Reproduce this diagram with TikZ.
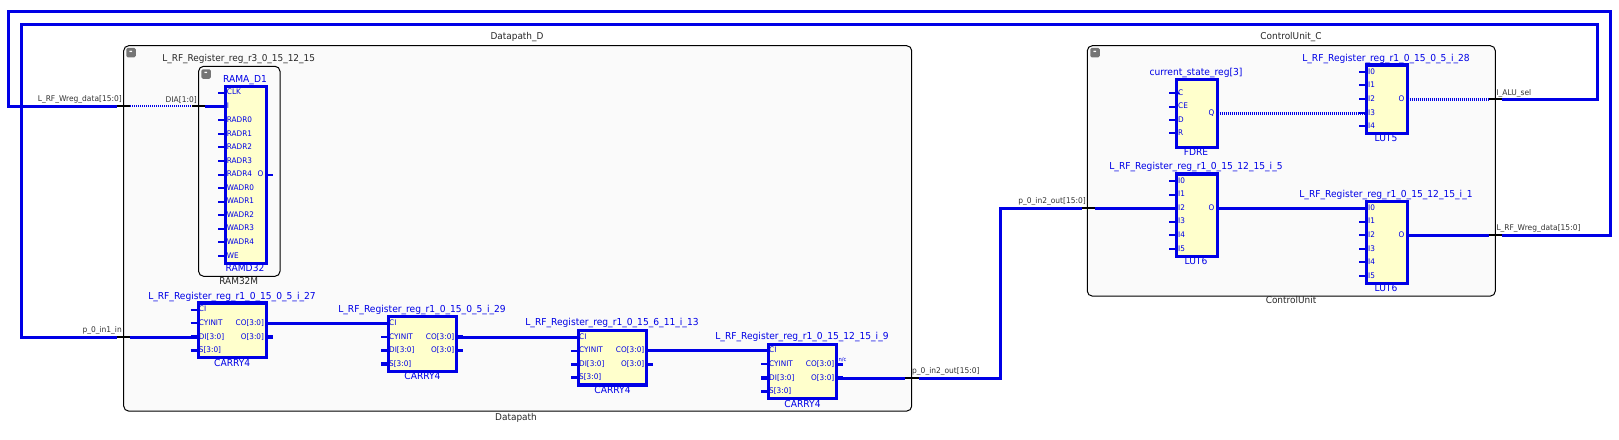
\documentclass[tikz,border=0pt]{standalone}
\usepackage{fontspec}
\setmainfont{DejaVu Sans}[FakeStretch=0.95]
\definecolor{netblue}{HTML}{0000E6}
\definecolor{cellyellow}{HTML}{FFFFCC}
\definecolor{groupgray}{HTML}{FAFAFA}
\definecolor{icongray}{HTML}{757575}
\tikzset{
  group/.style={draw=black,fill=groupgray,line width=1pt,rounded corners=5pt},
  cell/.style={draw=netblue,fill=cellyellow,line width=3.3pt,inner sep=0pt,outer sep=0pt},
  icon/.style={fill=icongray,rounded corners=1.5pt,minimum size=9.5pt,inner sep=0pt,text=white,font=\fontsize{9}{9}\selectfont\bfseries},
  net/.style={draw=netblue,line width=3pt,line join=miter},
  netdot/.style={draw=netblue,line width=3pt,dash pattern=on 1pt off 1pt},
  netdotthin/.style={draw=netblue,line width=2pt,dash pattern=on 1pt off 1pt},
  port/.style={draw=black,line width=2pt},
  pinthin/.style={draw=netblue,line width=2pt},
  pinbus/.style={draw=netblue,line width=3.4pt},
  cellname/.style={text=netblue,inner sep=0pt,text height=7pt,text depth=2pt,font=\fontsize{9.6}{10}\selectfont},
  pinname/.style={text=netblue,inner sep=0pt,text height=6pt,text depth=1.5pt,font=\fontsize{7.7}{9}\selectfont},
  blackname/.style={text=black!85,inner sep=0pt,text height=7pt,text depth=2pt,font=\fontsize{9.4}{10}\selectfont},
  netname/.style={text=black!80,inner sep=0pt,text height=6pt,text depth=1.5pt,font=\fontsize{7.9}{9}\selectfont}
}
\begin{document}
\begin{tikzpicture}[x=1pt,y=-1pt]
\useasboundingbox (0,0) rectangle (1619,439);
% hierarchy boxes
\node[group,minimum width=788pt,minimum height=365.4pt] (datapath) at (517.7,228.4) {};
\node[group,minimum width=81.4pt,minimum height=210pt] (ramgroup) at (239.3,171.3) {};
\node[group,minimum width=408pt,minimum height=250.4pt] (control) at (1291.3,170.9) {};
\node[icon] (dpicon) at (131,52.7) {-};
\node[icon] (ramicon) at (206,74) {-};
\node[icon] (cticon) at (1095,52.7) {-};
\node[blackname] (dptitle) at (517,37.3) {Datapath\_D};
\node[blackname] (dpname) at (516,417.5) {Datapath};
\node[blackname] (ramtitle) at (238.7,58.5) {L\_RF\_Register\_reg\_r3\_0\_15\_12\_15};
\node[blackname] (ramname) at (238.7,282) {RAM32M};
\node[blackname] (cttitle) at (1291,37.3) {ControlUnit\_C};
\node[blackname] (ctname) at (1291,301.3) {ControlUnit};
% cells
\node[cell,minimum width=41pt,minimum height=176.6pt] (ramd) at (246.2,175) {};
\node[cell,minimum width=41.4pt,minimum height=68pt] (fdre) at (1197,113.3) {};
\node[cell,minimum width=41.4pt,minimum height=68.7pt] (luta) at (1387,99.3) {};
\node[cell,minimum width=41.4pt,minimum height=82.7pt] (lutb) at (1197,215.3) {};
\node[cell,minimum width=41.4pt,minimum height=82.4pt] (lutc) at (1387,242.5) {};
\foreach \cy/\xx/\yy in {cya/232.2/330.3,cyb/422.5/344,cyc/612.5/357.7,cyd/802.5/371.4}{
\node[cell,minimum width=68pt,minimum height=54.5pt] (\cy) at (\xx,\yy) {};
\node[cellname] (\cy type) at (\xx,\yy+33.3) {CARRY4};
\foreach \p/\lab/\off/\kind in {ci/CI/-20.7/pinthin,cyinit/CYINIT/-7/pinthin,di/DI[3:0]/6.7/pinbus,s/S[3:0]/20/pinbus}{
\node[pinname,anchor=west] (\cy\p) at (\xx-33.5,\yy+\off) {\lab};
\coordinate (\cy\p end) at (\xx-41.5,\yy+\off);
\draw[\kind] (\cy\p end) -- (\cy\p.west);
}
\foreach \p/\lab/\off in {co/CO[3:0]/-7,o/O[3:0]/6.7}{
\node[pinname,anchor=east] (\cy\p) at (\xx+32,\yy+\off) {\lab};
\coordinate (\cy\p end) at (\xx+40.5,\yy+\off);
\draw[pinbus] (\cy.east |- \cy\p) -- (\cy\p end);
}
}
\node[cellname] (cyaname) at (232,296.7) {L\_RF\_Register\_reg\_r1\_0\_15\_0\_5\_i\_27};
\node[cellname] (cybname) at (422,309.7) {L\_RF\_Register\_reg\_r1\_0\_15\_0\_5\_i\_29};
\node[cellname] (cycname) at (612,323.3) {L\_RF\_Register\_reg\_r1\_0\_15\_6\_11\_i\_13};
\node[cellname] (cydname) at (802,337.3) {L\_RF\_Register\_reg\_r1\_0\_15\_12\_15\_i\_9};
\node[cellname] (ramdname) at (245,79.7) {RAMA\_D1};
\node[cellname] (ramdtype) at (245,268.5) {RAMD32};
\node[cellname] (fdrename) at (1196,72.7) {current\_state\_reg[3]};
\node[cellname] (fdretype) at (1196,152.7) {FDRE};
\node[cellname] (lutaname) at (1386,58.7) {L\_RF\_Register\_reg\_r1\_0\_15\_0\_5\_i\_28};
\node[cellname] (lutatype) at (1386,139) {LUT5};
\node[cellname] (lutbname) at (1196,167.3) {L\_RF\_Register\_reg\_r1\_0\_15\_12\_15\_i\_5};
\node[cellname] (lutbtype) at (1196,261.7) {LUT6};
\node[cellname] (lutcname) at (1386,194.7) {L\_RF\_Register\_reg\_r1\_0\_15\_12\_15\_i\_1};
\node[cellname] (lutctype) at (1386,288.7) {LUT6};
% pins
\foreach \lab/\yy in {CLK/92.7,I/106,RADR0/120,RADR1/134,RADR2/147,RADR3/161,RADR4/174.5,WADR0/188,WADR1/201.5,WADR2/215,WADR3/228.5,WADR4/242,WE/256}{
\node[pinname,anchor=west] (ramd\lab) at (226.7,\yy) {\lab};
\coordinate (ramd\lab end) at (218,\yy);
\draw[pinthin] (ramd\lab end) -- (ramd\lab.west);
}
\foreach \lab/\yy in {C/93.3,CE/106.7,D/120,R/133.3}{
\node[pinname,anchor=west] (fdre\lab) at (1178,\yy) {\lab};
\coordinate (fdre\lab end) at (1169.3,\yy);
\draw[pinthin] (fdre\lab end) -- (fdre\lab.west);
}
% clock mark of the flip-flop
\fill[netblue] (fdreC.west) ++(-3,-3) -- ++(5,3) -- ++(-5,3) -- cycle;
\foreach \lab/\yy in {I0/72.3,I1/85.3,I2/99,I3/113,I4/126}{
\node[pinname,anchor=west] (luta\lab) at (1368,\yy) {\lab};
\coordinate (luta\lab end) at (1359.3,\yy);
\draw[pinthin] (luta\lab end) -- (luta\lab.west);
}
\foreach \lab/\yy in {I0/181,I1/194.7,I2/208,I3/221.7,I4/235,I5/249}{
\node[pinname,anchor=west] (lutb\lab) at (1178,\yy) {\lab};
\coordinate (lutb\lab end) at (1169.3,\yy);
\draw[pinthin] (lutb\lab end) -- (lutb\lab.west);
}
\foreach \lab/\yy in {I0/208,I1/221.7,I2/235,I3/249,I4/262,I5/276}{
\node[pinname,anchor=west] (lutc\lab) at (1368,\yy) {\lab};
\coordinate (lutc\lab end) at (1359.3,\yy);
\draw[pinthin] (lutc\lab end) -- (lutc\lab.west);
}
\node[pinname,anchor=east] (ramdO) at (263.5,174.5) {O};
\coordinate (ramdOend) at (273,174.5);
\draw[pinthin] (ramd.east |- ramdO) -- (ramdOend);
\node[pinname,anchor=east] (fdreQ) at (1214.5,113.3) {Q};
\node[pinname,anchor=east] (lutaO) at (1404.5,99) {O};
\node[pinname,anchor=east] (lutbO) at (1214.5,208) {O};
\node[pinname,anchor=east] (lutcO) at (1404.5,235) {O};
\node[text=netblue,inner sep=0pt,font=\fontsize{5.5}{6}\selectfont] (cydnc) at (842.5,360) {n/c};
% net corners and the black stubs at the hierarchy borders
\foreach \n/\xx/\yy in {wra/1488.6/235,wrb/1502.3/235,wrc/1610.7/235,wrd/1610.7/11.5,wre/8/11.5,wrf/8/106,wrg/117/106,wrh/130/106,wri/192/106,wrj/205/106,
ala/1489/99,alb/1502.3/99,alc/1597/99,ald/1597/24.3,ale/21.5/24.3,alf/21.5/337,alg/117/337,alh/130/337,
oua/905/378.1,oub/919/378.1,ouc/1000/378.1,oud/1000/208,oue/1081.7/208,ouf/1095/208}{
\coordinate (\n) at (\xx,\yy);
}
% nets
\draw[net] (lutc.east |- wra) -- (wra);
\draw[port] (wra) -- (wrb);
\draw[net] (wrb) -- (wrc) -- (wrd) -- (wre) -- (wrf) -- (wrg);
\draw[port] (wrg) -- (wrh);
\draw[netdotthin] (wrh) -- (wri);
\draw[port] (wri) -- (wrj);
\draw[net] (wrj) -- (ramd.west |- wrj);
\draw[netdot] (luta.east |- ala) -- (ala);
\draw[port] (ala) -- (alb);
\draw[net] (alb) -- (alc) -- (ald) -- (ale) -- (alf) -- (alg);
\draw[port] (alg) -- (alh);
\draw[net] (alh) -- (cya.west |- alh);
\draw[net] (cya.east |- cyaco) -- (cyb.west |- cybci);
\draw[net] (cyb.east |- cybco) -- (cyc.west |- cycci);
\draw[net] (cyc.east |- cycco) -- (cyd.west |- cydci);
\draw[net] (cyd.east |- oua) -- (oua);
\draw[port] (oua) -- (oub);
\draw[net] (oub) -- (ouc) -- (oud) -- (oue);
\draw[port] (oue) -- (ouf);
\draw[net] (ouf) -- (lutb.west |- ouf);
\draw[net] (lutb.east |- lutbO) -- (lutc.west |- lutcI0);
\draw[netdot] (fdre.east |- fdreQ) -- (luta.west |- fdreQ);
% net names
\node[netname,anchor=east] (wregleft) at (122,99.3) {L\_RF\_Wreg\_data[15:0]};
\node[netname,anchor=east] (dia) at (197,100) {DIA[1:0]};
\node[netname,anchor=east] (inone) at (122,330.3) {p\_0\_in1\_in};
\node[netname,anchor=west] (outdp) at (912,371.3) {p\_0\_in2\_out[15:0]};
\node[netname,anchor=east] (outct) at (1086,201.3) {p\_0\_in2\_out[15:0]};
\node[netname,anchor=west] (alusel) at (1496.3,93) {I\_ALU\_sel};
\node[netname,anchor=west] (wregright) at (1496.3,228.3) {L\_RF\_Wreg\_data[15:0]};
\end{tikzpicture}
\end{document}
